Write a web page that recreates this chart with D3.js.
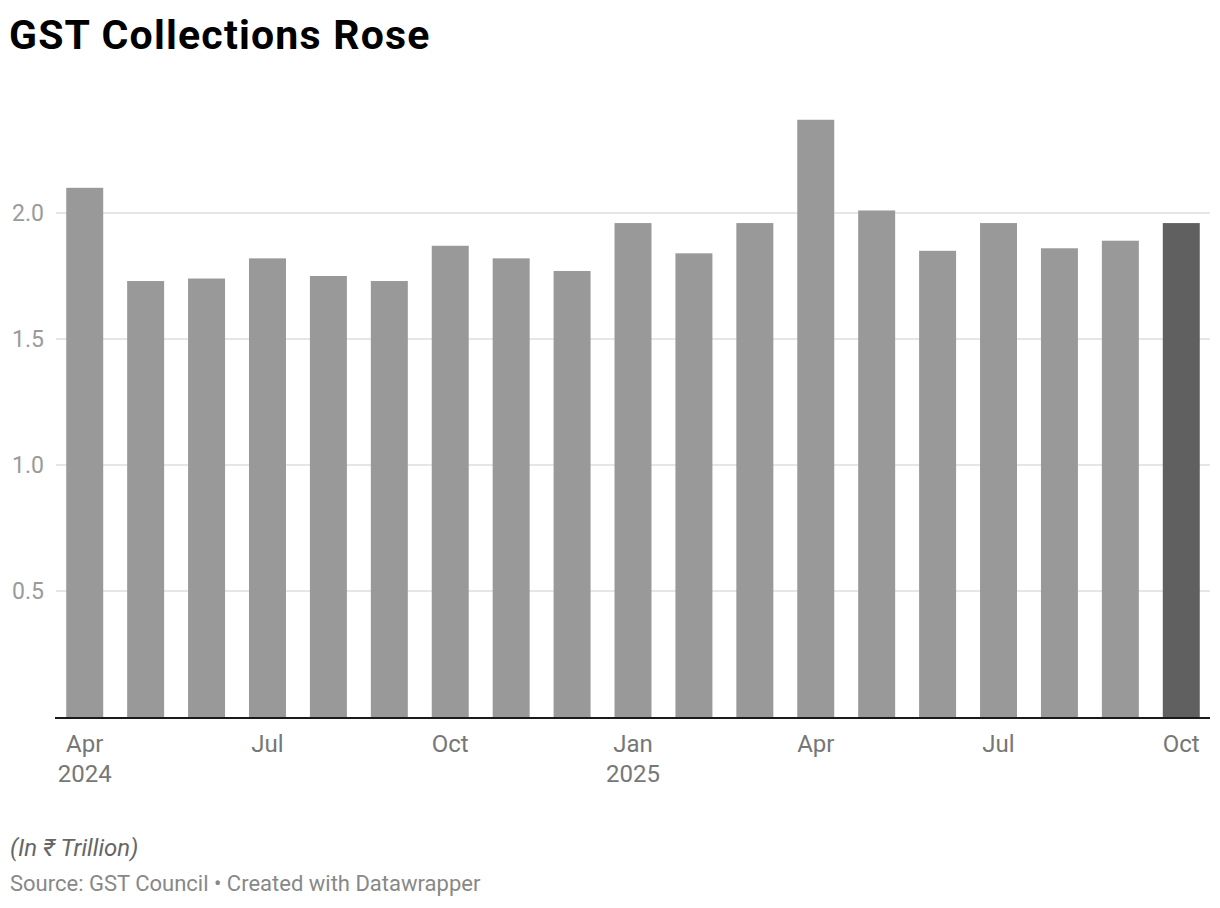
<!DOCTYPE html>
<html>
<head>
<meta charset="utf-8">
<script src="https://cdn.jsdelivr.net/npm/d3@7"></script>
<style>
  body { margin: 0; background: #fff; font-family: Roboto, sans-serif; }
</style>
</head>
<body>
<div id="chart"></div>
<script>
// months shown, Apr 2024 .. Oct 2025
const months = ['2024-04','2024-05','2024-06','2024-07','2024-08','2024-09','2024-10','2024-11','2024-12',
  '2025-01','2025-02','2025-03','2025-04','2025-05','2025-06','2025-07','2025-08','2025-09','2025-10'];
// GST collections, in Rs trillion
const collections = [2.10, 1.73, 1.74, 1.82, 1.75, 1.73, 1.87, 1.82, 1.77,
  1.96, 1.84, 1.96, 2.37, 2.01, 1.85, 1.96, 1.86, 1.89, 1.96];
const yTicks = [0.5, 1.0, 1.5, 2.0];
// month index -> tick label lines
const xTickLabels = {0: ['Apr', '2024'], 3: ['Jul'], 6: ['Oct'], 9: ['Jan', '2025'], 12: ['Apr'], 15: ['Jul'], 18: ['Oct']};

const W = 1220, H = 908;
const margin = {top: 60, right: 10, bottom: 191, left: 56};
const width = W - margin.left - margin.right,
  height = H - margin.top - margin.bottom;

const svg = d3.select('#chart').append('svg')
  .attr('width', W)
  .attr('height', H);

// title
svg.append('text')
  .attr('x', 9).attr('y', 49)
  .attr('font-size', 41).attr('font-weight', 700)
  .attr('letter-spacing', 1.2)
  .attr('fill', '#000')
  .text('GST Collections Rose');

const g = svg.append('g')
  .attr('transform', 'translate(' + margin.left + ',' + margin.top + ')');

const x = d3.scaleBand()
  .domain(months)
  .range([0, width])
  .paddingInner(0.393)
  .paddingOuter(0.168);

const y = d3.scaleLinear()
  .domain([0, 2.5])
  .range([height, height - 2.5 * 252]);

// gridlines
g.selectAll('.grid')
  .data(yTicks)
  .enter().append('line')
  .attr('x1', 0).attr('x2', width)
  .attr('y1', d => y(d)).attr('y2', d => y(d))
  .attr('stroke', '#e6e6e6').attr('stroke-width', 2);

// y labels
g.selectAll('.ylab')
  .data(yTicks)
  .enter().append('text')
  .attr('x', -12).attr('y', d => y(d) + 8)
  .attr('text-anchor', 'end')
  .attr('font-size', 23)
  .attr('fill', '#9a9a9a')
  .text(d => d3.format('.1f')(d));

// bars
g.selectAll('.bar')
  .data(collections)
  .enter().append('rect')
  .attr('x', (d, i) => x(months[i]))
  .attr('y', d => y(d))
  .attr('width', x.bandwidth())
  .attr('height', d => y(0) - y(d))
  .attr('fill', (d, i) => i === months.length - 1 ? '#606060' : '#999999');

// baseline
g.append('line')
  .attr('x1', -1).attr('x2', width)
  .attr('y1', y(0) + 1).attr('y2', y(0) + 1)
  .attr('stroke', '#1a1a1a').attr('stroke-width', 2);

// x labels
Object.entries(xTickLabels).forEach(([i, lines]) => {
  const cx = x(months[+i]) + x.bandwidth() / 2;
  const t = g.append('text')
    .attr('x', cx)
    .attr('y', y(0) + 35)
    .attr('text-anchor', 'middle')
    .attr('font-size', 24)
    .attr('fill', '#777');
  lines.forEach((l, k) => {
    t.append('tspan').attr('x', cx).attr('dy', k ? 30 : 0).text(l);
  });
});

// notes
svg.append('text')
  .attr('x', 10).attr('y', 856)
  .attr('font-size', 24).attr('font-style', 'italic')
  .attr('fill', '#666')
  .text('(In ₹ Trillion)');

svg.append('text')
  .attr('x', 10).attr('y', 891)
  .attr('font-size', 22)
  .attr('fill', '#888')
  .text('Source: GST Council • Created with Datawrapper');
</script>
</body>
</html>
